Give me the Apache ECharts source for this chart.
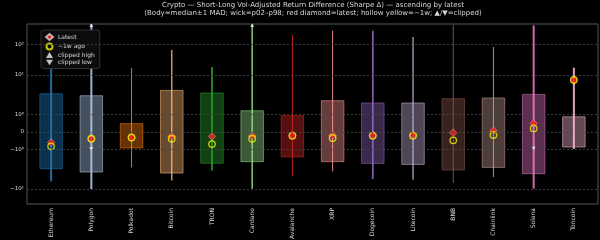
<!DOCTYPE html>
<html>
<head>
<meta charset="utf-8">
<script src="https://cdn.jsdelivr.net/npm/echarts@6/dist/echarts.min.js"></script>
<style>
  html, body { margin: 0; padding: 0; background: #000; }
  #chart { width: 600px; height: 240px; }
</style>
</head>
<body>
<div id="chart"></div>
<script>
// coins, ascending by latest Sharpe delta
var names = ['Ethereum', 'Polygon', 'Polkadot', 'Bitcoin', 'TRON', 'Cardano', 'Avalanche',
  'XRP', 'Dogecoin', 'Litecoin', 'BNB', 'Chainlink', 'Solana', 'Toncoin']
// body = median ± 1 MAD
var bodyLow  = [-3.04, -3.69, -0.90, -3.92, -2.21, -2.02, -1.53, -2.02, -2.23, -2.37, -3.28, -2.82, -4.08, -0.85]
var bodyHigh = [3.34, 2.97, 0.47, 4.06, 3.48, 1.23, 0.92, 2.22, 1.94, 1.94, 2.49, 2.60, 3.21, 0.86]
// wick = p02 .. p98 (Polygon / Cardano run past the top)
var wickLow  = [-6.4, -10.0, -2.82, -6.04, -3.36, -9.8, -4.78, -3.57, -5.57, -5.8, -7.04, -4.95, -9.8, -0.96]
var wickHigh = [33.2, 600, 16.9, 65, 18.2, 600, 205, 277, 277, 173, 435, 81.7, 413, 17.3]
var latest   = [-0.59, -0.38, -0.31, -0.25, -0.25, -0.22, -0.21, -0.19, -0.19, -0.17, -0.04, 0.07, 0.49, 7.46]
var weekAgo  = [-0.81, -0.38, -0.31, -0.38, -0.68, -0.38, -0.21, -0.34, -0.21, -0.21, -0.47, -0.17, 0.20, 7.46]
var clippedHigh = [1, 5]          // category index
var clippedLowIdx = [1, 12]
var clippedLowVal = [-0.96, -0.93]
var yTicks = [100, 10, 1, 0, -1, -10]
var yTickLabels = ['10²', '10¹', '10⁰', '0', '−10⁰', '−10¹']

// tab20 palette
var colors = ['#1f77b4', '#aec7e8', '#ff7f0e', '#ffbb78', '#2ca02c', '#98df8a', '#d62728',
  '#ff9896', '#9467bd', '#c5b0d5', '#8c564b', '#c49c94', '#e377c2', '#f7b6d2']
var wickWidths = [2, 2, 1, 1.3, 1.8, 1.5, 1, 1, 1.7, 1.3, 1, 1, 2, 2]

// symlog-like scale -> axis units (linear inside ±1, log decades outside)
var LIN = 17.7, DEC1 = 39.3, DEC2 = 30.7
function T(v) {
  var a = Math.abs(v), s = v < 0 ? -1 : 1
  if (a <= 1) return v * LIN
  if (a <= 10) return s * (LIN + DEC1 * Math.log10(a))
  return s * (LIN + DEC1 + DEC2 * Math.log10(a / 10))
}
var Y_MIN = -72, Y_MAX = 108

function rgba(hex, a) {
  var n = parseInt(hex.slice(1), 16)
  return 'rgba(' + (n >> 16) + ',' + ((n >> 8) & 255) + ',' + (n & 255) + ',' + a + ')'
}

var boxData = names.map(function (n, i) {
  return [i, T(bodyLow[i]), T(bodyHigh[i]), T(wickLow[i]), T(wickHigh[i])]
})

function renderBox(params, api) {
  var i = api.value(0)
  var lo = api.coord([i, api.value(1)])
  var hi = api.coord([i, api.value(2)])
  var wlo = api.coord([i, api.value(3)])
  var whi = api.coord([i, api.value(4)])
  var w = api.size([1, 0])[0] * 0.56
  var c = colors[i]
  return {
    type: 'group',
    children: [
      { type: 'rect', shape: { x: lo[0] - w / 2, y: hi[1], width: w, height: lo[1] - hi[1] },
        style: { fill: rgba(c, 0.4), stroke: rgba(c, 0.55), lineWidth: 1 } },
      { type: 'line', shape: { x1: whi[0], y1: whi[1], x2: wlo[0], y2: wlo[1] },
        style: { stroke: rgba(c, 0.9), lineWidth: wickWidths[i] } }
    ]
  }
}

var chart = echarts.init(document.getElementById('chart'))
var txt = '#d8d8d8'
var font = 'DejaVu Sans'

var option = {
  backgroundColor: '#000',
  animation: false,
  textStyle: { fontFamily: font },
  graphic: [
    { type: 'text', x: 313, y: 1.5, style: { text: 'Crypto — Short-Long Vol-Adjusted Return Difference (Sharpe Δ) — ascending by latest',
      fill: txt, font: '7px DejaVu Sans', textAlign: 'center' } },
    { type: 'text', x: 313, y: 10, style: { text: '(Body=median±1 MAD; wick=p02–p98; red diamond=latest; hollow yellow=~1w; ▲/▼=clipped)',
      fill: txt, font: '7px DejaVu Sans', textAlign: 'center' } }
  ],
  grid: { left: 27, right: 2, top: 24, bottom: 36, show: true, borderColor: '#555', borderWidth: 1,
    outerBoundsMode: 'none', containLabel: false },
  legend: {
    orient: 'vertical', left: 41, top: 30,
    backgroundColor: '#0c0c0c', borderColor: '#3a3a3a', borderWidth: 0.8, borderRadius: 2,
    padding: [3, 5, 3, 4], itemGap: 1.5, itemWidth: 7, itemHeight: 6,
    textStyle: { color: txt, fontSize: 6, fontFamily: font },
    data: ['Latest', '~1w ago', 'clipped high', 'clipped low']
  },
  xAxis: {
    type: 'value', min: -0.6, max: 13.6,
    splitLine: { show: false },
    axisLine: { show: false }, axisTick: { show: false },
    axisLabel: {
      customValues: names.map(function (n, i) { return i }),
      formatter: function (v) { return names[Math.round(v)] },
      rotate: 90, fontSize: 6, color: txt, margin: 4
    }
  },
  yAxis: {
    type: 'value', min: Y_MIN, max: Y_MAX,
    name: 'Sharpe Δ (annualized mean / annualized vol)',
    nameLocation: 'middle', nameGap: 17, nameRotate: 90,
    nameTextStyle: { color: txt, fontSize: 5.5 },
    splitLine: { show: false },
    axisLine: { show: false }, axisTick: { show: false },
    axisLabel: {
      customValues: yTicks.map(T),
      formatter: function (v) {
        for (var k = 0; k < yTicks.length; k++) {
          if (Math.abs(T(yTicks[k]) - v) < 0.01) return yTickLabels[k]
        }
        return ''
      },
      fontSize: 5.5, color: txt, margin: 3
    }
  },
  series: [
    {
      type: 'custom', name: 'body', renderItem: renderBox, data: boxData, clip: true,
      markLine: {
        silent: true, symbol: 'none', label: { show: false },
        lineStyle: { color: '#4a4a4a', type: [2, 2], width: 0.8 },
        data: yTicks.map(function (v) { return { yAxis: T(v) } })
      }
    },
    {
      type: 'scatter', name: 'Latest', symbol: 'diamond', symbolSize: 7.5, z: 3,
      itemStyle: { color: '#ff1a1a', borderColor: '#f0d0d0', borderWidth: 0.5 },
      data: latest.map(function (v, i) { return [i, T(v)] })
    },
    {
      type: 'scatter', name: '~1w ago', symbol: 'circle', symbolSize: 6.5, z: 4,
      itemStyle: { color: 'rgba(0,0,0,0)', borderColor: '#f5f500', borderWidth: 1.3 },
      data: weekAgo.map(function (v, i) { return [i, T(v)] })
    },
    {
      type: 'scatter', name: 'clipped high', symbol: 'triangle', symbolSize: [4, 3.5], z: 5,
      itemStyle: { color: '#f0f0f0' },
      data: clippedHigh.map(function (i) { return [i, Y_MAX - 1.2] })
    },
    {
      type: 'scatter', name: 'clipped low', symbol: 'path://M0,0 L10,0 L5,8 Z', symbolSize: [4, 3.5], z: 5,
      itemStyle: { color: '#f0f0f0' },
      data: clippedLowIdx.map(function (i, k) { return [i, T(clippedLowVal[k])] })
    }
  ]
}
chart.setOption(option)
</script>
</body>
</html>
